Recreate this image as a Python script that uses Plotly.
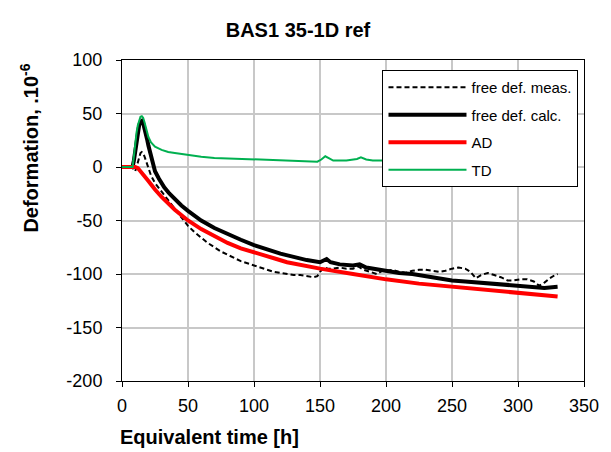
import plotly.graph_objects as go

# ---- data ----
t_meas = [0, 8, 9, 10, 11, 12, 13, 14, 15, 16, 17, 18, 19, 20, 22, 25, 28, 33, 36, 40, 45, 50, 55, 60,
          65, 70, 75, 80, 85, 90, 95, 100, 105, 110, 115, 120, 125, 130, 135, 140, 145, 148, 150, 153,
          156, 160, 165, 170, 175, 179, 183, 188, 193, 197, 200, 205, 210, 215, 220, 225, 230, 235, 240,
          245, 250, 255, 260, 264, 268, 272, 277, 282, 287, 292, 297, 302, 307, 312, 316, 320, 324, 328, 330]
free_meas = [0, 0, -3, -4, 0, 5, 10, 13, 14, 13, 10, 6, 2, -2, -8, -15, -20, -28, -33, -39, -47, -55, -61, -66,
             -71, -75, -79, -82, -85, -88, -90, -92, -94, -96, -98, -99, -100, -101, -101, -102, -103, -102, -98, -94,
             -95, -95, -94, -95, -95, -93, -96, -98, -100, -97, -97, -96, -98, -99, -97, -96, -96, -97, -98,
             -97, -95, -94, -95, -98, -104, -101, -99, -101, -103, -106, -106, -105, -105, -107, -111, -108, -104, -101, -100]

t_calc = [0, 8, 9, 10, 11, 12, 13, 14, 15, 16, 17, 18, 19, 20, 22, 25, 28, 32, 36, 40, 45, 50, 55, 60,
          70, 80, 90, 100, 110, 120, 130, 140, 150, 153, 155, 158, 165, 175, 180, 185, 195, 200, 210, 220,
          230, 240, 250, 260, 270, 280, 290, 300, 310, 320, 330]
free_calc = [0, 0, 6, 16, 26, 34, 39, 42, 43, 41, 37, 32, 26, 20, 9, -4, -11, -19, -25, -30, -36, -41, -46, -50,
             -57, -63, -68, -73, -77, -81, -84, -87, -89, -87, -86, -89, -91, -92, -91, -94, -96, -97, -99, -100,
             -102, -104, -106, -107, -108, -109, -110, -111, -112, -113, -112]

t_ad = [0, 10, 12, 15, 20, 25, 30, 40, 50, 60, 70, 80, 90, 100, 117, 125, 150, 175, 200, 225, 250, 275, 300, 330]
ad = [0, 0, -1, -5, -13, -21, -28, -40, -50, -58, -65, -71, -76, -80, -86, -89, -95, -100, -105, -109, -112, -115, -118, -121]

t_td = [0, 8, 9, 10, 11, 12, 13, 14, 15, 16, 17, 18, 19, 20, 22, 25, 30, 35, 40, 50, 60, 70, 80, 90, 100,
        110, 120, 130, 140, 148, 151, 154, 157, 160, 170, 178, 181, 185, 190, 200, 250, 300, 330]
td = [0, 0, 10, 22, 32, 39, 44, 47, 47.5, 46, 42, 37, 32, 28, 23, 19, 16, 14, 13, 11, 9.5, 8.5, 8, 7.5, 7,
      6.5, 6, 5.5, 5.5, 5, 7, 10, 8, 6, 6, 7.5, 9, 7, 6, 6, 6, 6, 6]

x_ticks = [0, 50, 100, 150, 200, 250, 300, 350]
x_ticklabels = ["0", "50", "100", "150", "200", "250", "300", "350"]
y_ticks = [-200, -150, -100, -50, 0, 50, 100]
y_ticklabels = ["-200", "-150", "-100", "-50", "0", "50", "100"]

FONT = "Liberation Sans, Arial, sans-serif"

fig = go.Figure()
fig.add_trace(go.Scatter(x=t_meas, y=free_meas, mode="lines", name="free def. meas.",
                         legendgroup="a", line=dict(color="black", width=2, dash="5px,3px")))
fig.add_trace(go.Scatter(x=t_calc, y=free_calc, mode="lines", name="free def. calc.",
                         legendgroup="b", line=dict(color="black", width=4)))
fig.add_trace(go.Scatter(x=t_ad, y=ad, mode="lines", name="AD",
                         legendgroup="c", line=dict(color="#ff0000", width=4)))
fig.add_trace(go.Scatter(x=t_td, y=td, mode="lines", name="TD",
                         legendgroup="d", line=dict(color="#00b050", width=2)))

axis_common = dict(showline=True, linecolor="black", linewidth=1, mirror=True,
                   showgrid=True, gridcolor="#c8c8c8", gridwidth=2, zeroline=False,
                   ticks="outside", ticklen=5, tickcolor="black",
                   tickfont=dict(family=FONT, size=18, color="black"))

fig.update_xaxes(range=[0, 350], tickmode="array", tickvals=x_ticks, ticktext=x_ticklabels,
                 ticklabelstandoff=3, **axis_common)
fig.update_yaxes(range=[-200, 100], tickmode="array", tickvals=y_ticks, ticktext=y_ticklabels,
                 ticklabelstandoff=10, **axis_common)

fig.update_layout(
    width=611, height=452,
    margin=dict(l=122, r=19, t=60, b=71),
    paper_bgcolor="white", plot_bgcolor="white",
    font=dict(family=FONT, color="black"),
    title=dict(text="<b>BAS1 35-1D ref</b>", x=298 / 611, xref="container", xanchor="center",
               y=1 - 30 / 452, yref="container", yanchor="middle",
               font=dict(family=FONT, size=20, color="black")),
    showlegend=True,
    legend=dict(x=(387 - 122) / 470, y=(381 - 70) / 321, xanchor="left", yanchor="top",
                bgcolor="white", bordercolor="black", borderwidth=1,
                font=dict(family=FONT, size=15, color="black"),
                tracegroupgap=5, itemwidth=78),
    annotations=[
        dict(text="<b>Equivalent time [h]</b>", xref="paper", yref="paper",
             x=(118 - 122) / 470, y=-(437 - 381) / 321, xanchor="left", yanchor="middle",
             showarrow=False, font=dict(family=FONT, size=20, color="black")),
        dict(text="<b>Deformation, .10<sup>-6</sup></b>", xref="paper", yref="paper",
             x=-(122 - 27) / 470, y=(381 - 148) / 321, xanchor="center", yanchor="middle",
             textangle=-90, showarrow=False, font=dict(family=FONT, size=20, color="black")),
    ],
)

fig.write_html("out.html")
